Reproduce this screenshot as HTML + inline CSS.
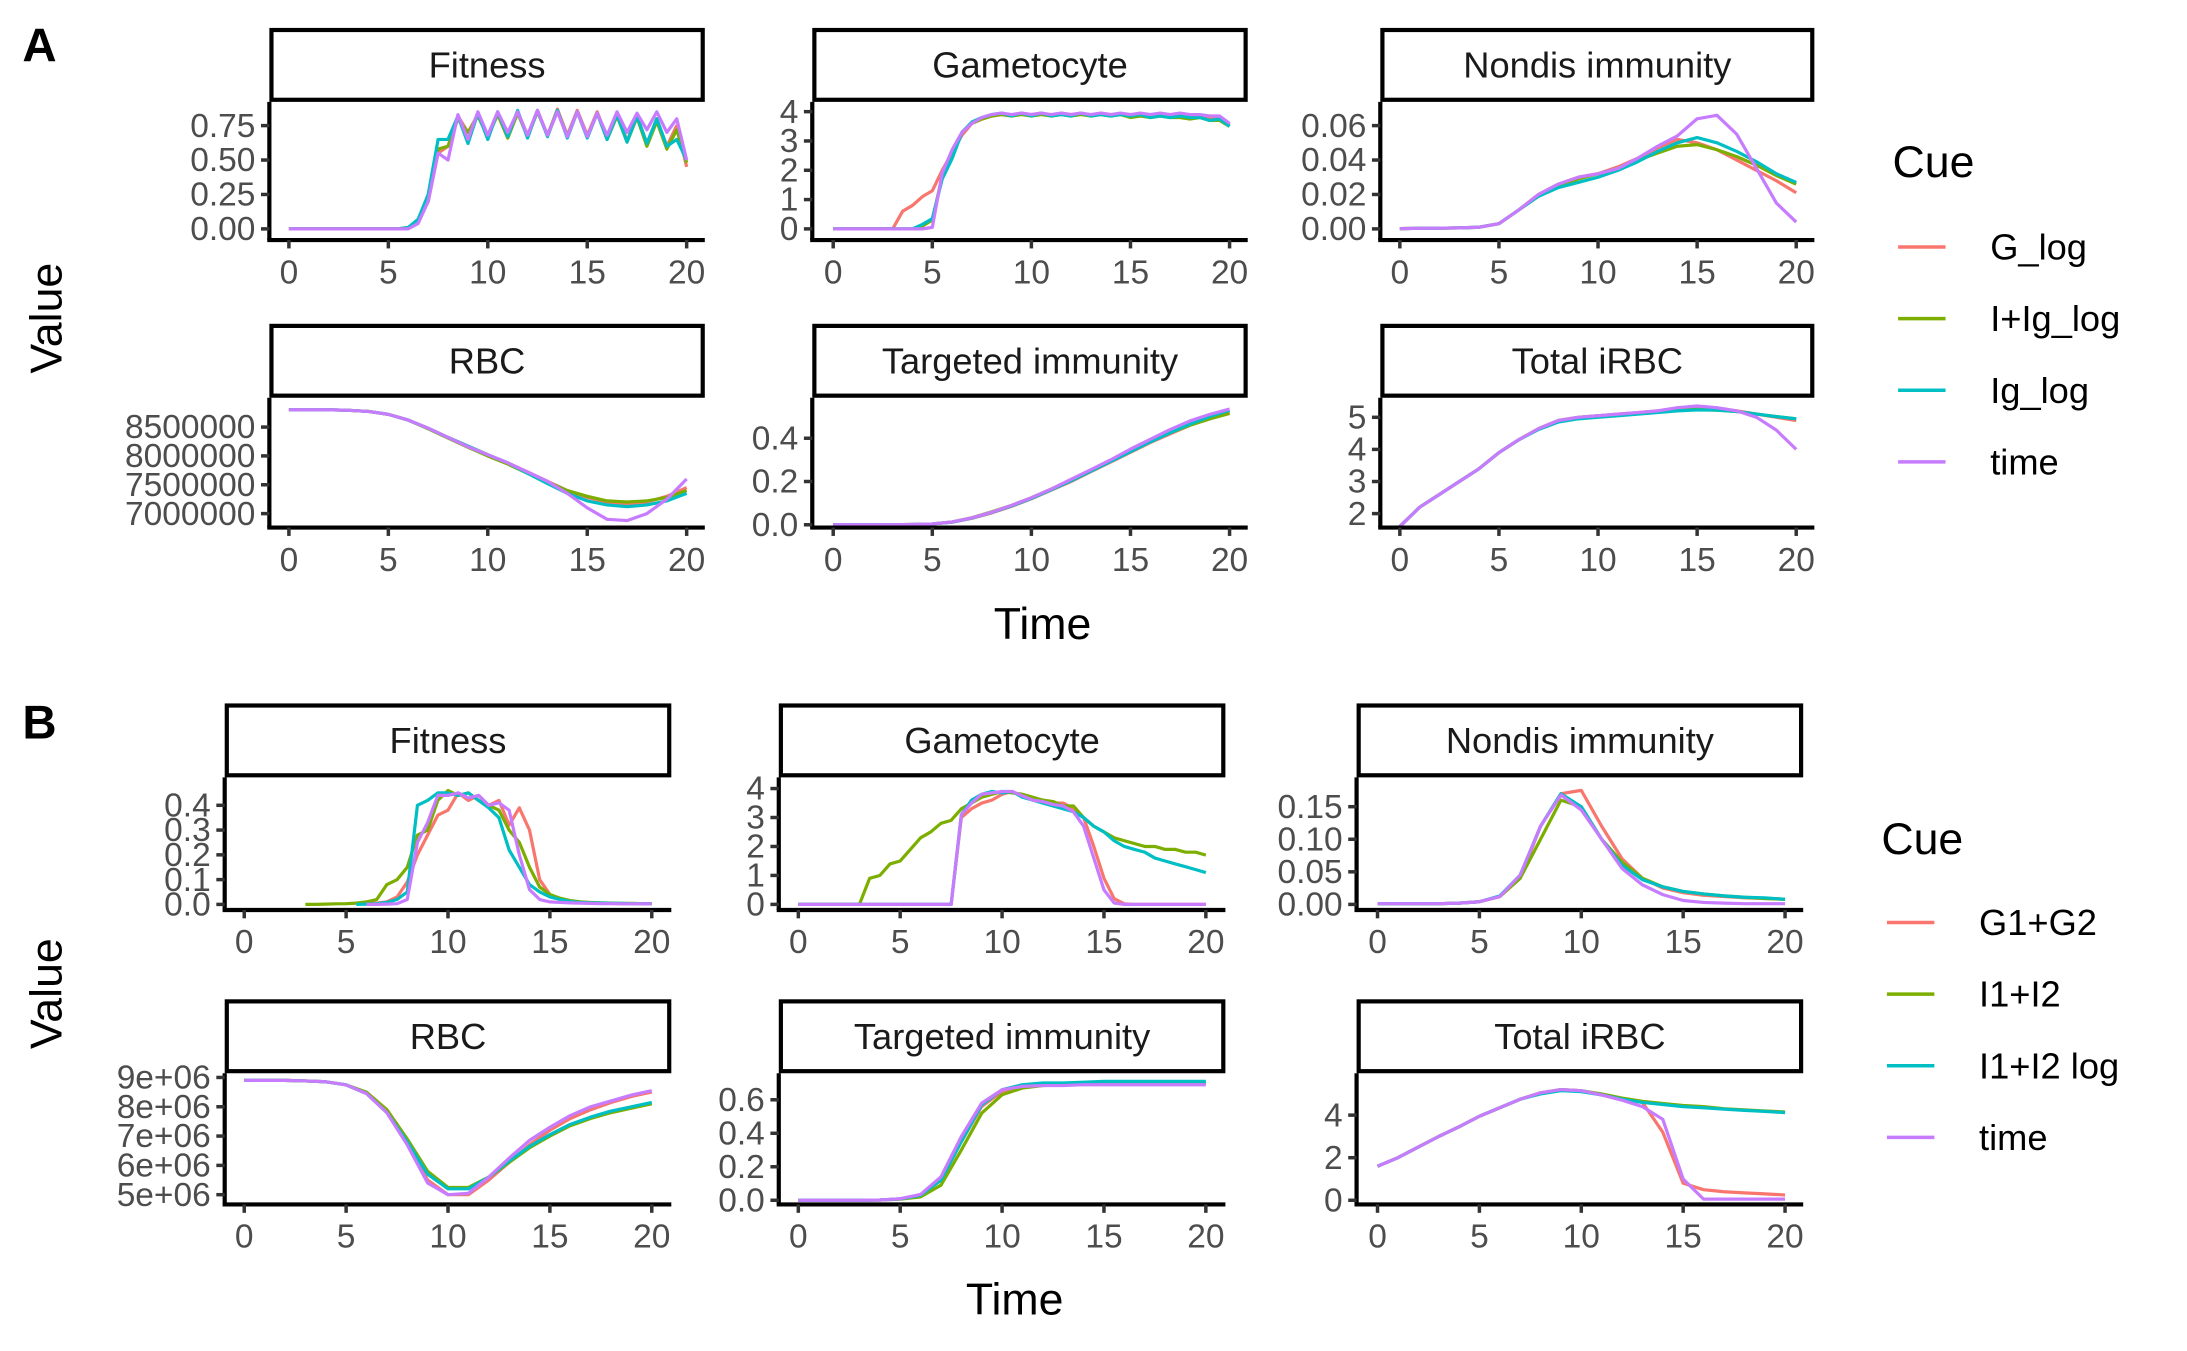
<!DOCTYPE html>
<html><head><meta charset="utf-8">
<style>
html,body{margin:0;padding:0;background:#fff;}
svg{display:block;font-family:"Liberation Sans",sans-serif;}
</style></head>
<body>
<svg id="chart" width="2187" height="1351" viewBox="0 0 1567 968" xmlns="http://www.w3.org/2000/svg">
<text x="16" y="44" font-size="34" font-weight="bold">A</text>
<text x="16" y="529" font-size="34" font-weight="bold">B</text>
<text transform="translate(44,228) rotate(-90)" text-anchor="middle" font-size="32">Value</text>
<text transform="translate(44,712) rotate(-90)" text-anchor="middle" font-size="32">Value</text>
<text x="747" y="458" text-anchor="middle" font-size="32">Time</text>
<text x="727" y="942" text-anchor="middle" font-size="32">Time</text>
<g id="plots"></g>
<g id="legends"></g>
</svg>
<script>
const tH = [0,0.5,1,1.5,2,2.5,3,3.5,4,4.5,5,5.5,6,6.5,7,7.5,8,8.5,9,9.5,10,10.5,11,11.5,12,12.5,13,13.5,14,14.5,15,15.5,16,16.5,17,17.5,18,18.5,19,19.5,20];
const tF = [0,1,2,3,4,5,6,7,8,9,10,11,12,13,14,15,16,17,18,19,20];
const colors = ["#F8766D","#7CAE00","#00BFC4","#C77CFF"];
const cuesA = ["G_log","I+Ig_log","Ig_log","time"];
const cuesB = ["G1+G2","I1+I2","I1+I2 log","time"];
const n = null;

// Panel A
const aFitG = [0,0,0,0,0,0,0,0,0,0, 0,0,0.01,0.05,0.2,0.55,0.6,0.82,0.7,0.83, 0.68,0.84,0.66,0.85,0.68,0.86,0.68,0.87,0.68,0.86, 0.68,0.85,0.66,0.83,0.64,0.82,0.62,0.8,0.6,0.75, 0.45];
const aFitI = [0,0,0,0,0,0,0,0,0,0, 0,0,0.01,0.06,0.2,0.58,0.6,0.8,0.7,0.82, 0.67,0.83,0.66,0.84,0.67,0.85,0.68,0.86,0.67,0.85, 0.67,0.84,0.65,0.82,0.63,0.81,0.6,0.78,0.58,0.72, 0.48];
const aFitIg = [0,0,0,0,0,0,0,0,0,0, 0,0,0.01,0.07,0.25,0.65,0.65,0.82,0.62,0.84, 0.65,0.85,0.67,0.86,0.66,0.86,0.67,0.86,0.66,0.85, 0.66,0.84,0.65,0.83,0.63,0.82,0.62,0.8,0.6,0.65, 0.5];
const aFitT = [0,0,0,0,0,0,0,0,0,0, 0,0,0,0.04,0.2,0.55,0.5,0.83,0.65,0.85, 0.68,0.85,0.7,0.85,0.68,0.86,0.68,0.85,0.67,0.85, 0.67,0.84,0.68,0.85,0.7,0.84,0.72,0.85,0.7,0.8, 0.5];

const aGamG = [0,0,0,0,0,0,0,0.6,0.8,1.1, 1.3,2.0,2.6,3.2,3.6,3.75,3.85,3.9,3.85,3.95, 3.9,3.95,3.85,3.95,3.9,3.95,3.85,3.95,3.9,3.9, 3.85,3.9,3.8,3.9,3.85,3.9,3.85,3.85,3.8,3.8, 3.55];
const aGamI = [0,0,0,0,0,0,0,0,0,0.1, 0.3,1.8,2.5,3.3,3.6,3.75,3.85,3.9,3.85,3.9, 3.85,3.9,3.85,3.9,3.85,3.9,3.85,3.9,3.85,3.9, 3.8,3.85,3.8,3.85,3.8,3.8,3.75,3.8,3.7,3.7, 3.5];
const aGamIg = [0,0,0,0,0,0,0,0,0,0.15, 0.35,1.7,2.4,3.3,3.65,3.8,3.9,3.95,3.85,3.95, 3.85,3.95,3.85,3.9,3.85,3.95,3.85,3.9,3.85,3.9, 3.85,3.9,3.8,3.85,3.8,3.85,3.8,3.8,3.7,3.75, 3.5];
const aGamT = [0,0,0,0,0,0,0,0,0,0, 0.05,1.9,2.7,3.3,3.6,3.8,3.9,3.95,3.9,3.95, 3.9,3.95,3.9,3.95,3.9,3.95,3.9,3.95,3.9,3.95, 3.9,3.95,3.9,3.95,3.9,3.95,3.9,3.9,3.85,3.85, 3.6];

const aNonG = [0.0002,0.0003,0.0004,0.0006,0.001,0.003,0.011,0.02,0.026,0.03, 0.032,0.036,0.041,0.047,0.052,0.05,0.046,0.04,0.034,0.028, 0.021];
const aNonI = [0.0002,0.0003,0.0004,0.0006,0.001,0.003,0.011,0.019,0.025,0.029, 0.032,0.035,0.04,0.044,0.048,0.049,0.046,0.042,0.037,0.031, 0.026];
const aNonIg = [0.0002,0.0003,0.0004,0.0006,0.001,0.003,0.011,0.019,0.024,0.027, 0.03,0.034,0.039,0.045,0.05,0.053,0.05,0.045,0.039,0.032, 0.027];
const aNonT = [0.0002,0.0003,0.0004,0.0006,0.001,0.003,0.011,0.02,0.026,0.03, 0.032,0.035,0.041,0.048,0.054,0.064,0.066,0.055,0.035,0.015, 0.004];

const aRbcG = [8.8,8.8,8.8,8.79,8.77,8.72,8.62,8.48,8.32,8.17, 8.02,7.88,7.72,7.56,7.4,7.28,7.2,7.17,7.2,7.3, 7.45];
const aRbcI = [8.8,8.8,8.8,8.79,8.77,8.72,8.62,8.47,8.31,8.15, 8.0,7.86,7.7,7.55,7.4,7.3,7.22,7.2,7.22,7.28, 7.4];
const aRbcIg = [8.8,8.8,8.8,8.79,8.77,8.72,8.62,8.48,8.32,8.17, 8.02,7.88,7.7,7.52,7.35,7.22,7.15,7.12,7.15,7.22, 7.35];
const aRbcT = [8.8,8.8,8.8,8.79,8.77,8.72,8.62,8.48,8.32,8.16, 8.02,7.88,7.72,7.56,7.35,7.1,6.9,6.88,7.0,7.25, 7.6];

const aTarG = [0,0,0,0,0.001,0.004,0.012,0.03,0.055,0.085, 0.12,0.16,0.2,0.245,0.29,0.335,0.38,0.42,0.46,0.49, 0.52];
const aTarI = [0,0,0,0,0.001,0.004,0.013,0.033,0.06,0.09, 0.125,0.165,0.205,0.25,0.295,0.34,0.385,0.425,0.46,0.49, 0.515];
const aTarIg = [0,0,0,0,0.001,0.004,0.012,0.031,0.057,0.087, 0.122,0.162,0.203,0.248,0.293,0.338,0.383,0.425,0.465,0.5, 0.53];
const aTarT = [0,0,0,0,0.001,0.004,0.013,0.032,0.058,0.09, 0.125,0.165,0.21,0.255,0.3,0.35,0.395,0.44,0.48,0.51, 0.535];

const aTotG = [1.6,2.2,2.6,3.0,3.4,3.9,4.3,4.65,4.9,5.0, 5.05,5.1,5.15,5.2,5.25,5.28,5.25,5.2,5.1,5.0, 4.9];
const aTotI = [1.6,2.2,2.6,3.0,3.4,3.9,4.3,4.65,4.9,5.0, 5.05,5.08,5.12,5.18,5.22,5.25,5.22,5.18,5.1,5.02, 4.95];
const aTotIg = [1.6,2.2,2.6,3.0,3.4,3.9,4.3,4.62,4.85,4.95, 5.0,5.05,5.1,5.15,5.2,5.23,5.22,5.18,5.1,5.02, 4.95];
const aTotT = [1.6,2.2,2.6,3.0,3.4,3.9,4.3,4.65,4.9,5.0, 5.05,5.1,5.15,5.2,5.3,5.35,5.3,5.2,5.0,4.6, 4.0];

// Panel B
const bFitG = [n,n,n,n,n,n,n,n,n,n, n,n,0,0.005,0.01,0.03,0.09,0.2,0.28,0.36, 0.38,0.45,0.42,0.44,0.4,0.42,0.32,0.39,0.3,0.1, 0.04,0.02,0.012,0.008,0.006,0.005,0.004,0.003,0.003,0.003, 0.003];
const bFitI = [n,n,n,n,n,n,0,0,0.001,0.002, 0.003,0.005,0.01,0.02,0.08,0.1,0.15,0.28,0.3,0.42, 0.46,0.44,0.45,0.42,0.4,0.38,0.3,0.25,0.15,0.07, 0.04,0.025,0.015,0.01,0.008,0.006,0.005,0.004,0.004,0.003, 0.003];
const bFitIl = [n,n,n,n,n,n,n,n,n,n, n,0,0.001,0.003,0.008,0.02,0.05,0.4,0.42,0.45, 0.45,0.44,0.45,0.42,0.39,0.35,0.22,0.15,0.08,0.05, 0.03,0.02,0.012,0.008,0.006,0.005,0.004,0.004,0.003,0.003, 0.003];
const bFitT = [n,n,n,n,n,n,n,n,n,n, n,n,0,0,0.001,0.003,0.02,0.25,0.33,0.44, 0.44,0.45,0.43,0.44,0.4,0.41,0.38,0.2,0.06,0.02, 0.01,0.008,0.006,0.005,0.004,0.003,0.003,0.002,0.002,0.002, 0.002];

const bGamG = [0,0,0,0,0,0,0,0,0,0, 0,0,0,0,0,0,3.0,3.3,3.5,3.6, 3.8,3.9,3.7,3.65,3.6,3.5,3.5,3.3,3.0,2.0, 0.9,0.2,0.02,0,0,0,0,0,0,0, 0];
const bGamI = [0,0,0,0,0,0,0,0.9,1.0,1.4, 1.5,1.9,2.3,2.5,2.8,2.9,3.3,3.5,3.7,3.8, 3.9,3.85,3.8,3.7,3.6,3.55,3.4,3.4,3.0,2.7, 2.5,2.3,2.2,2.1,2.0,2.0,1.9,1.9,1.8,1.8, 1.7];
const bGamIl = [0,0,0,0,0,0,0,0,0,0, 0,0,0,0,0,0,3.1,3.6,3.8,3.9, 3.85,3.9,3.7,3.6,3.5,3.4,3.3,3.2,3.0,2.7, 2.5,2.2,2.0,1.9,1.8,1.6,1.5,1.4,1.3,1.2, 1.1];
const bGamT = [0,0,0,0,0,0,0,0,0,0, 0,0,0,0,0,0,3.1,3.5,3.8,3.85, 3.9,3.9,3.75,3.6,3.55,3.45,3.4,3.2,2.7,1.6, 0.5,0.05,0,0,0,0,0,0,0,0, 0];

const bNonG = [0.001,0.001,0.001,0.001,0.002,0.004,0.012,0.04,0.12,0.17, 0.175,0.12,0.07,0.04,0.025,0.018,0.014,0.012,0.01,0.009, 0.008];
const bNonI = [0.001,0.001,0.001,0.001,0.002,0.004,0.012,0.04,0.1,0.16, 0.15,0.1,0.065,0.04,0.027,0.02,0.016,0.013,0.011,0.009, 0.008];
const bNonIl = [0.001,0.001,0.001,0.001,0.002,0.004,0.013,0.045,0.12,0.17, 0.15,0.1,0.06,0.038,0.027,0.02,0.016,0.013,0.011,0.01, 0.008];
const bNonT = [0.001,0.001,0.001,0.001,0.002,0.004,0.012,0.045,0.12,0.168, 0.145,0.1,0.055,0.03,0.015,0.006,0.003,0.002,0.001,0.001, 0.001];

const bRbcG = [8.9,8.9,8.9,8.88,8.85,8.75,8.45,7.8,6.75,5.5, 5.0,5.0,5.5,6.1,6.7,7.2,7.6,7.9,8.15,8.35, 8.5];
const bRbcI = [8.9,8.9,8.9,8.88,8.85,8.75,8.5,7.9,6.9,5.8, 5.25,5.25,5.6,6.1,6.6,7.0,7.35,7.6,7.8,7.95, 8.1];
const bRbcIl = [8.9,8.9,8.9,8.88,8.85,8.75,8.45,7.8,6.8,5.7, 5.2,5.2,5.6,6.15,6.65,7.05,7.4,7.65,7.85,8.0, 8.15];
const bRbcT = [8.9,8.9,8.9,8.88,8.85,8.75,8.45,7.8,6.7,5.4, 5.0,5.05,5.6,6.25,6.85,7.3,7.7,8.0,8.2,8.4, 8.55];

const bTarG = [0,0,0,0,0.002,0.008,0.03,0.12,0.35,0.56, 0.65,0.68,0.69,0.69,0.695,0.7,0.7,0.7,0.7,0.7, 0.7];
const bTarI = [0,0,0,0,0.002,0.007,0.02,0.09,0.3,0.52, 0.63,0.67,0.685,0.69,0.695,0.7,0.7,0.7,0.7,0.7, 0.7];
const bTarIl = [0,0,0,0,0.002,0.008,0.03,0.12,0.35,0.57, 0.66,0.69,0.7,0.7,0.705,0.71,0.71,0.71,0.71,0.71, 0.71];
const bTarT = [0,0,0,0,0.002,0.009,0.035,0.14,0.38,0.58, 0.66,0.68,0.685,0.685,0.69,0.69,0.69,0.69,0.69,0.69, 0.69];

const bTotG = [1.6,2.0,2.5,3.0,3.45,3.95,4.35,4.75,5.05,5.2, 5.15,4.95,4.75,4.6,3.2,0.8,0.5,0.4,0.35,0.3, 0.25];
const bTotI = [1.6,2.0,2.5,3.0,3.45,3.95,4.35,4.75,5.05,5.2, 5.15,5.0,4.8,4.65,4.55,4.45,4.4,4.3,4.25,4.2, 4.15];
const bTotIl = [1.6,2.0,2.5,3.0,3.45,3.95,4.35,4.75,5.0,5.15, 5.1,4.95,4.75,4.6,4.5,4.4,4.35,4.28,4.22,4.18, 4.12];
const bTotT = [1.6,2.0,2.5,3.0,3.45,3.95,4.35,4.75,5.05,5.2, 5.15,4.95,4.7,4.4,3.8,1.0,0.05,0.05,0.05,0.05, 0.05];

// Tick values / labels
const xTicks = [0,5,10,15,20];
const tkAFit = [0,0.25,0.5,0.75], lbAFit = ["0.00","0.25","0.50","0.75"];
const tkAGam = [0,1,2,3,4], lbAGam = ["0","1","2","3","4"];
const tkANon = [0,0.02,0.04,0.06], lbANon = ["0.00","0.02","0.04","0.06"];
const tkARbc = [7,7.5,8,8.5], lbARbc = ["7000000","7500000","8000000","8500000"];
const tkATar = [0,0.2,0.4], lbATar = ["0.0","0.2","0.4"];
const tkATot = [2,3,4,5], lbATot = ["2","3","4","5"];
const tkBFit = [0,0.1,0.2,0.3,0.4], lbBFit = ["0.0","0.1","0.2","0.3","0.4"];
const tkBGam = [0,1,2,3,4], lbBGam = ["0","1","2","3","4"];
const tkBNon = [0,0.05,0.1,0.15], lbBNon = ["0.00","0.05","0.10","0.15"];
const tkBRbc = [5,6,7,8,9], lbBRbc = ["5e+06","6e+06","7e+06","8e+06","9e+06"];
const tkBTar = [0,0.2,0.4,0.6], lbBTar = ["0.0","0.2","0.4","0.6"];
const tkBTot = [0,2,4], lbBTot = ["0","2","4"];

const NS = "http://www.w3.org/2000/svg";
function mk(tag, attrs, parent){
  const e = document.createElementNS(NS, tag);
  for (const k in attrs) e.setAttribute(k, attrs[k]);
  parent.appendChild(e);
  return e;
}
const plots = document.getElementById('plots');

const panels = [
 {title:"Fitness", L:193,R:505,ST:20,PT:73,PB:172,X0:207,X20:492, cal:[0,164,0.75,90], t:tH, s:[aFitG,aFitI,aFitIg,aFitT], tk:tkAFit, lb:lbAFit, key:"a-fitness"},
 {title:"Gametocyte", L:582,R:894,ST:20,PT:73,PB:172,X0:597,X20:881, cal:[0,164,4,80], t:tH, s:[aGamG,aGamI,aGamIg,aGamT], tk:tkAGam, lb:lbAGam, key:"a-gametocyte"},
 {title:"Nondis immunity", L:989,R:1300,ST:20,PT:73,PB:172,X0:1003,X20:1287, cal:[0,164,0.06,90], t:tF, s:[aNonG,aNonI,aNonIg,aNonT], tk:tkANon, lb:lbANon, key:"a-nondis-immunity"},
 {title:"RBC", L:193,R:505,ST:232,PT:285,PB:378,X0:207,X20:492, cal:[7,368,8.5,306], t:tF, s:[aRbcG,aRbcI,aRbcIg,aRbcT], tk:tkARbc, lb:lbARbc, key:"a-rbc"},
 {title:"Targeted immunity", L:582,R:894,ST:232,PT:285,PB:378,X0:597,X20:881, cal:[0,376,0.4,314], t:tF, s:[aTarG,aTarI,aTarIg,aTarT], tk:tkATar, lb:lbATar, key:"a-targeted-immunity"},
 {title:"Total iRBC", L:989,R:1300,ST:232,PT:285,PB:378,X0:1003,X20:1287, cal:[2,368,5,299], t:tF, s:[aTotG,aTotI,aTotIg,aTotT], tk:tkATot, lb:lbATot, key:"a-total-irbc"},
 {title:"Fitness", L:161,R:481,ST:504,PT:557,PB:652,X0:175,X20:467, cal:[0,648,0.4,577], t:tH, s:[bFitG,bFitI,bFitIl,bFitT], tk:tkBFit, lb:lbBFit, key:"b-fitness"},
 {title:"Gametocyte", L:558,R:878,ST:504,PT:557,PB:652,X0:572,X20:864, cal:[0,648,4,565], t:tH, s:[bGamG,bGamI,bGamIl,bGamT], tk:tkBGam, lb:lbBGam, key:"b-gametocyte"},
 {title:"Nondis immunity", L:972,R:1292,ST:504,PT:557,PB:652,X0:987,X20:1279, cal:[0,648,0.15,578], t:tF, s:[bNonG,bNonI,bNonIl,bNonT], tk:tkBNon, lb:lbBNon, key:"b-nondis-immunity"},
 {title:"RBC", L:161,R:481,ST:716,PT:769,PB:863,X0:175,X20:467, cal:[5,856,9,772], t:tF, s:[bRbcG,bRbcI,bRbcIl,bRbcT], tk:tkBRbc, lb:lbBRbc, key:"b-rbc"},
 {title:"Targeted immunity", L:558,R:878,ST:716,PT:769,PB:863,X0:572,X20:864, cal:[0,860,0.6,788], t:tF, s:[bTarG,bTarI,bTarIl,bTarT], tk:tkBTar, lb:lbBTar, key:"b-targeted-immunity"},
 {title:"Total iRBC", L:972,R:1292,ST:716,PT:769,PB:863,X0:987,X20:1279, cal:[0,860,4,799], t:tF, s:[bTotG,bTotI,bTotIl,bTotT], tk:tkBTot, lb:lbBTot, key:"b-total-irbc"}
];

panels.forEach(p => {
  const g = mk('g', {}, plots);
  
  
  const xs = v => p.X0 + (p.X20 - p.X0) * v / 20;
  const ys = v => p.cal[1] + (p.cal[3] - p.cal[1]) * (v - p.cal[0]) / (p.cal[2] - p.cal[0]);
  const strip = mk('rect', {x:p.L+1.5, y:p.ST+1.5, width:p.R-p.L-3, height:p.PT-p.ST-3, fill:'#fff', stroke:'#000', 'stroke-width':3}, g);
  
  
  const st = mk('text', {x:(p.L+p.R)/2, y:(p.ST+p.PT)/2+9, 'text-anchor':'middle', 'font-size':26, fill:'#1a1a1a'}, g);
  st.textContent = p.title;
  
  
  p.s.forEach((arr, si) => {
    let d = '', pen = false;
    for (let i = 0; i < p.t.length && i < arr.length; i++) {
      const v = arr[i];
      if (v === null) { pen = false; continue; }
      d += (pen ? 'L' : 'M') + xs(p.t[i]).toFixed(1) + ',' + ys(v).toFixed(1);
      pen = true;
    }
    const path = mk('path', {d:d, fill:'none', stroke:colors[si], 'stroke-width':2.3, 'stroke-linejoin':'round'}, g);
    
    
  });
  const ya = mk('line', {x1:p.L, y1:p.PT, x2:p.L, y2:p.PB, stroke:'#000', 'stroke-width':3}, g);
  
  
  const xa = mk('line', {x1:p.L-1.5, y1:p.PB, x2:p.R, y2:p.PB, stroke:'#000', 'stroke-width':3}, g);
  
  
  xTicks.forEach(v => {
    mk('line', {x1:xs(v), y1:p.PB, x2:xs(v), y2:p.PB+6, stroke:'#333', 'stroke-width':2.5}, g);
    const tl = mk('text', {x:xs(v), y:p.PB+31, 'text-anchor':'middle', 'font-size':24, fill:'#4d4d4d'}, g);
    tl.textContent = v;
    
    
  });
  p.tk.forEach((v, i) => {
    mk('line', {x1:p.L-6, y1:ys(v), x2:p.L, y2:ys(v), stroke:'#333', 'stroke-width':2.5}, g);
    const tl = mk('text', {x:p.L-10, y:ys(v)+8, 'text-anchor':'end', 'font-size':24, fill:'#4d4d4d'}, g);
    tl.textContent = p.lb[i];
    
    
  });
});

const legends = document.getElementById('legends');
function legend(x, titleY, entryY, labels, key){
  const g = mk('g', {}, legends);
  
  
  const t = mk('text', {x:x, y:titleY, 'font-size':32, fill:'#000'}, g);
  t.textContent = 'Cue';
  
  
  labels.forEach((lab, i) => {
    const y = entryY + i * 51.3;
    const ln = mk('line', {x1:x+4, y1:y, x2:x+38, y2:y, stroke:colors[i], 'stroke-width':2.5}, g);
    
    
    const tx = mk('text', {x:x+70, y:y+9, 'font-size':26, fill:'#000'}, g);
    tx.textContent = lab;
    
    
  });
}
legend(1356, 127, 177, cuesA, 'a');
legend(1348, 612, 661, cuesB, 'b');
</script>
</body></html>
